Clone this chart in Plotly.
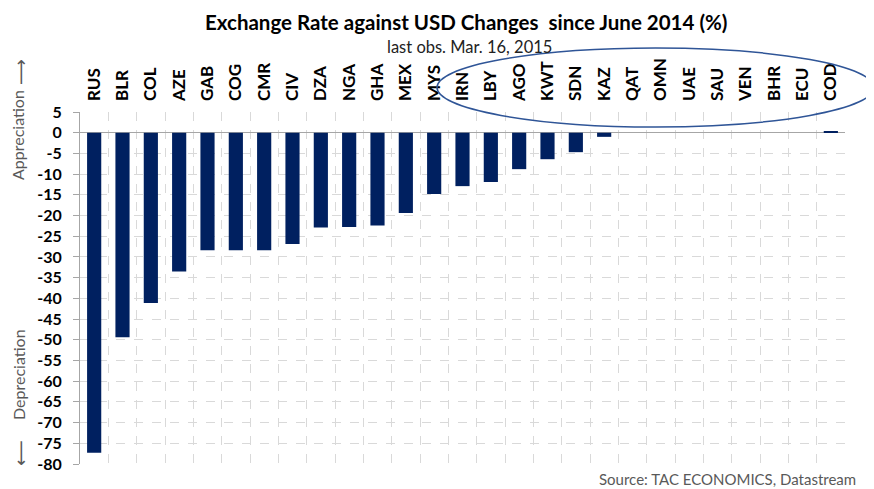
import plotly.graph_objects as go

countries = ["RUS", "BLR", "COL", "AZE", "GAB", "COG", "CMR", "CIV", "DZA", "NGA", "GHA",
             "MEX", "MYS", "IRN", "LBY", "AGO", "KWT", "SDN", "KAZ", "QAT", "OMN", "UAE",
             "SAU", "VEN", "BHR", "ECU", "COD"]
changes = [-77.3, -49.4, -41.1, -33.5, -28.4, -28.4, -28.4, -26.9, -22.9, -22.8, -22.4,
           -19.4, -14.8, -12.9, -11.9, -8.8, -6.4, -4.7, -1.0, 0.0, 0.0, 0.0,
           0.0, 0.0, 0.0, 0.0, 0.3]
y_ticks = list(range(-80, 6, 5))

# page body has an 8px margin; express layout in page pixels and shift
OFF = 8
W, H = 874, 489
PL, PT, PR, PB = 80, 112, 845, 464          # plot area in page pixels
L = PL - OFF
T = PT - OFF
pw, ph = PR - PL, PB - PT
R = W - L - pw
B = H - T - ph


def px(x):
    return (x - OFF - L) / pw


def py(y):
    return (H - B - (y - OFF)) / ph


FONT = "Lato, 'DejaVu Sans', sans-serif"

fig = go.Figure(go.Bar(x=countries, y=changes, marker=dict(color="#002060", line=dict(width=0)),
                       width=0.5))

fig.update_layout(
    width=W, height=H,
    margin=dict(l=L, r=R, t=T, b=B, autoexpand=False),
    paper_bgcolor="white", plot_bgcolor="white",
    showlegend=False,
    font=dict(family=FONT, color="black"),
    xaxis=dict(side="top", type="category", tickangle=-90, tickson="boundaries",
               tickvals=countries, ticktext=[f"<b>{c}</b>" for c in countries],
               showgrid=True, gridcolor="#d9d9d9", griddash="dash", gridwidth=1,
               ticks="", ticklabelstandoff=10, automargin=False,
               tickfont=dict(family=FONT, size=17, color="black"),
               showline=False, range=[-0.5, 26.5]),
    yaxis=dict(range=[-80, 5], tickvals=y_ticks, ticktext=[f"<b>{v}</b>" for v in y_ticks],
               showgrid=True, gridcolor="#d9d9d9", griddash="dash", gridwidth=1,
               zeroline=True, zerolinecolor="#a6a6a6", zerolinewidth=1,
               showline=True, linecolor="#a6a6a6", linewidth=1, automargin=False,
               ticks="outside", ticklen=6, tickcolor="#a6a6a6", ticklabelstandoff=8,
               tickfont=dict(family=FONT, size=16, color="black")),
)

anns = [
    dict(text="<b>Exchange Rate against USD Changes \u00a0since June 2014 (%)</b>",
         x=px(466), y=py(22), font=dict(size=20.5, color="black")),
    dict(text="last obs. Mar. 16, 2015", x=px(469), y=py(47), font=dict(size=16.5, color="#222222")),
    dict(text="Appreciation", x=px(18), y=py(135), textangle=-90, font=dict(size=16, color="#595959")),
    dict(text="Depreciation", x=px(18), y=py(375), textangle=-90, font=dict(size=16, color="#595959")),
    dict(text="\u27f6", x=px(20), y=py(72), textangle=-90,
         font=dict(size=18, color="#595959", family="DejaVu Sans")),
    dict(text="\u27f5", x=px(20), y=py(453), textangle=-90,
         font=dict(size=18, color="#595959", family="DejaVu Sans")),
    dict(text="Source: TAC ECONOMICS, Datastream", x=px(858), y=py(479), xanchor="right",
         font=dict(size=15, color="#595959")),
]
for a in anns:
    a.setdefault("xanchor", "center")
    a.update(xref="paper", yref="paper", yanchor="middle", showarrow=False)
    fig.add_annotation(**a)

fig.add_shape(type="circle", xref="paper", yref="paper",
              x0=px(437), x1=px(874), y0=py(127), y1=py(48),
              line=dict(color="#2F5597", width=1.5), layer="above")

fig.write_html("out.html")
